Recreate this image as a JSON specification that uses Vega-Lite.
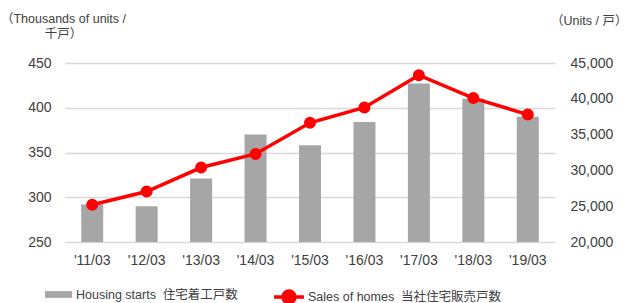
{
  "$schema": "https://vega.github.io/schema/vega-lite/v6.json",
  "width": 490,
  "height": 179,
  "autosize": {"type": "none"},
  "padding": {"left": 65, "top": 63, "right": 80, "bottom": 61},
  "background": "#FFFFFF",
  "config": {
    "view": {"stroke": null},
    "font": "Liberation Sans",
    "axis": {"labelFont": "Liberation Sans", "labelColor": "#404040", "titleColor": "#404040", "titleFont": "Liberation Sans, Noto Sans CJK JP", "titleFontWeight": "normal"},
    "legend": {"labelFont": "Liberation Sans, Noto Sans CJK JP", "labelColor": "#404040", "padding": 0, "labelLimit": 400}
  },
  "data": {
    "values": [
      {"year": "'11/03", "housing": 292, "sales": 25200},
      {"year": "'12/03", "housing": 290, "sales": 27050},
      {"year": "'13/03", "housing": 321, "sales": 30400},
      {"year": "'14/03", "housing": 370, "sales": 32300},
      {"year": "'15/03", "housing": 358, "sales": 36650},
      {"year": "'16/03", "housing": 384, "sales": 38800},
      {"year": "'17/03", "housing": 427, "sales": 43300},
      {"year": "'18/03", "housing": 410, "sales": 40100},
      {"year": "'19/03", "housing": 390, "sales": 37800}
    ]
  },
  "encoding": {
    "x": {
      "field": "year",
      "type": "ordinal",
      "sort": null,
      "axis": {"title": null, "labelAngle": 0, "labelFontSize": 14, "labelPadding": 11, "ticks": false, "domain": false, "grid": false}
    }
  },
  "layer": [
    {
      "mark": {"type": "bar", "size": 22, "clip": true},
      "encoding": {
        "y": {
          "field": "housing",
          "type": "quantitative",
          "scale": {"domain": [250, 450], "nice": false, "zero": false},
          "axis": {
            "orient": "left",
            "values": [250, 300, 350, 400, 450],
            "domain": false,
            "ticks": false,
            "labelFontSize": 14,
            "labelPadding": 14,
            "gridColor": "#D9D9D9",
            "gridWidth": 1.5,
            "title": ["（Thousands of units /", "千戸）"],
            "titleAngle": 0,
            "titleAlign": "center",
            "titleBaseline": "top",
            "titleX": -2,
            "titleY": -51,
            "titleFontSize": 12.5,
            "titleLineHeight": 15
          }
        },
        "fill": {
          "datum": "Housing starts\u00a0\u00a0住宅着工戸数",
          "type": "nominal",
          "scale": {"range": ["#A6A6A6"]},
          "legend": {
            "title": null,
            "orient": "none",
            "legendX": -20,
            "legendY": 218,
            "symbolType": "M-1,-0.25H1V0.25H-1Z",
            "symbolSize": 729,
            "symbolStrokeWidth": 0,
            "labelFontSize": 12.5,
            "labelOffset": 4
          }
        }
      }
    },
    {
      "mark": {"type": "line", "strokeWidth": 3.5, "point": {"filled": true, "size": 100, "fill": "#FF0000"}},
      "encoding": {
        "y": {
          "field": "sales",
          "type": "quantitative",
          "scale": {"domain": [20000, 45000], "nice": false, "zero": false},
          "axis": {
            "orient": "right",
            "values": [20000, 25000, 30000, 35000, 40000, 45000],
            "format": ",.0f",
            "grid": false,
            "domain": false,
            "ticks": false,
            "labelFontSize": 14,
            "labelPadding": 15,
            "title": "（Units / 戸）",
            "titleAngle": 0,
            "titleAlign": "right",
            "titleBaseline": "top",
            "titleX": 72,
            "titleY": -49,
            "titleFontSize": 12.5
          }
        },
        "stroke": {
          "datum": "Sales of homes\u00a0\u00a0当社住宅販売戸数",
          "type": "nominal",
          "scale": {"range": ["#FF0000"]},
          "legend": {
            "title": null,
            "orient": "none",
            "legendX": 207,
            "legendY": 217,
            "symbolType": "M-1,0H1M-0.4,0A0.4,0.4,0,1,1,0.4,0A0.4,0.4,0,1,1,-0.4,0Z",
            "symbolSize": 900,
            "symbolStrokeWidth": 3.5,
            "symbolFillColor": "#FF0000",
            "labelFontSize": 12.5,
            "labelOffset": 2
          }
        }
      }
    }
  ],
  "resolve": {"scale": {"y": "independent"}}
}
